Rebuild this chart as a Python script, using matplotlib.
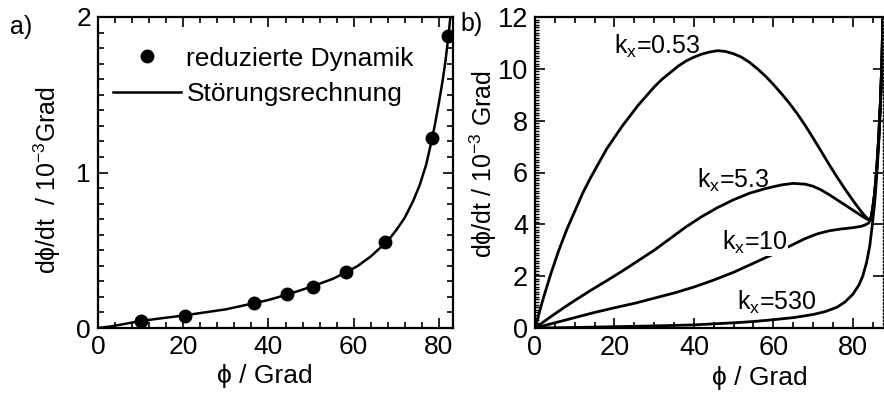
import matplotlib
matplotlib.use("Agg")
import matplotlib.pyplot as plt
from matplotlib.ticker import MultipleLocator

plt.rcParams['font.family'] = ['Liberation Sans', 'DejaVu Sans']
plt.rcParams['mathtext.fontset'] = 'custom'
plt.rcParams['mathtext.rm'] = 'Liberation Sans'
plt.rcParams['mathtext.it'] = 'Liberation Sans:italic'
plt.rcParams['mathtext.bf'] = 'Liberation Sans:bold'

# ---- panel a: reduced dynamics vs. perturbation theory ----
dots_phi = [10, 20.5, 36.7, 44.3, 50.4, 58.3, 67.3, 78.3, 82.1]
dots_rate = [0.045, 0.08, 0.16, 0.22, 0.265, 0.36, 0.55, 1.22, 1.88]

pert_phi = [0, 3, 6, 10, 15, 20, 25, 30, 35, 40, 45, 50, 55, 58, 61, 64,
            66, 68, 70, 72, 74, 75.5, 77, 78, 79, 80, 80.8, 81.5, 82.2,
            82.8, 83.3]
pert_rate = [0, 0.01, 0.025, 0.045, 0.063, 0.08, 0.1, 0.12, 0.15, 0.18,
             0.22, 0.265, 0.315, 0.355, 0.4, 0.46, 0.51, 0.56, 0.63, 0.71,
             0.82, 0.92, 1.05, 1.17, 1.3, 1.45, 1.58, 1.71, 1.87, 2.03,
             2.2]

legend_labels = ["reduzierte Dynamik", "Störungsrechnung"]

# ---- panel b: rate for several k_x ----
k053_phi = [0, 2, 4, 6, 8, 10, 12, 14, 16, 18, 20, 22, 24, 26, 28, 30, 32,
            34, 36, 38, 40, 42, 44, 46, 48, 50, 52, 54, 56, 58, 60, 62, 64,
            66, 68, 70, 72, 74, 76, 78, 80, 81, 82, 83, 84, 84.5, 85, 85.5,
            86, 86.5, 87, 87.3, 87.6]
k053_rate = [0, 1.1, 2.1, 3.0, 3.8, 4.5, 5.2, 5.8, 6.35, 6.9, 7.35, 7.8,
             8.2, 8.6, 8.95, 9.3, 9.6, 9.85, 10.1, 10.3, 10.45, 10.57,
             10.65, 10.7, 10.67, 10.58, 10.45, 10.25, 10.0, 9.72, 9.4, 9.05,
             8.68, 8.27, 7.82, 7.33, 6.83, 6.32, 5.83, 5.37, 4.93, 4.72,
             4.52, 4.33, 4.18, 4.2, 4.6, 5.2, 6.1, 7.3, 8.9, 10.2, 12.2]

k53_phi = [0, 2, 4, 6, 8, 10, 14, 18, 22, 26, 30, 34, 38, 42, 46, 50, 54,
           58, 62, 65, 68, 70, 72, 74, 76, 78, 80, 82, 83, 84, 84.5, 85,
           85.5, 86, 86.5, 87, 87.3, 87.6]
k53_rate = [0, 0.22, 0.44, 0.65, 0.86, 1.06, 1.45, 1.82, 2.2, 2.6, 3.0,
            3.45, 3.9, 4.3, 4.65, 4.95, 5.2, 5.38, 5.52, 5.58, 5.55, 5.47,
            5.33, 5.15, 4.95, 4.75, 4.55, 4.35, 4.25, 4.17, 4.2, 4.6, 5.2,
            6.1, 7.3, 8.9, 10.2, 12.2]

k10_phi = [0, 2, 5, 10, 15, 20, 25, 30, 35, 40, 45, 50, 55, 60, 64, 68,
           71, 74, 77, 80, 82, 83, 84, 84.5, 85, 85.5, 86, 86.5, 87, 87.3,
           87.6]
k10_rate = [0, 0.08, 0.2, 0.4, 0.6, 0.78, 0.95, 1.15, 1.35, 1.58, 1.85,
            2.15, 2.5, 2.85, 3.15, 3.45, 3.63, 3.75, 3.82, 3.87, 3.92, 3.97,
            4.05, 4.2, 4.6, 5.2, 6.1, 7.3, 8.9, 10.2, 12.2]

k530_phi = [0, 10, 20, 30, 40, 50, 55, 60, 65, 70, 73, 76, 78, 80, 81.5,
            82.5, 83.5, 84.3, 85, 85.6, 86.2, 86.7, 87.1, 87.4, 87.7]
k530_rate = [0, 0.02, 0.05, 0.08, 0.12, 0.2, 0.25, 0.32, 0.4, 0.52, 0.63,
             0.8, 1.0, 1.3, 1.65, 2.0, 2.55, 3.2, 4.1, 5.0, 6.3, 7.6, 9.1,
             10.5, 12.3]

curve_labels = [r"k$_\mathrm{x}$=0.53", r"k$_\mathrm{x}$=5.3",
                r"k$_\mathrm{x}$=10", r"k$_\mathrm{x}$=530"]
label_pos = [(30.7, 10.85), (50.0, 5.7), (55.3, 3.3), (60.9, 1.0)]

FS = 18
W, H = 884, 396
fig = plt.figure(figsize=(W / 100, H / 100), dpi=100)
ax1 = fig.add_axes([98 / W, 68 / H, 355 / W, 311 / H])
ax2 = fig.add_axes([535 / W, 68 / H, 348 / W, 311 / H])

for ax, tfs in ((ax1, 19), (ax2, 19.5)):
    for s in ax.spines.values():
        s.set_linewidth(1.6)
    ax.tick_params(which='both', direction='in', top=True, right=True,
                   labelsize=tfs, width=1.2, pad=5)
    ax.tick_params(which='major', length=7)
    ax.tick_params(which='minor', length=4)

# panel a
ax1.plot(pert_phi, pert_rate, color='black', lw=1.8, label=legend_labels[1])
ax1.plot(dots_phi, dots_rate, 'o', color='black', ms=9, ls='none',
         label=legend_labels[0])
ax1.set_xlim(0, 83.3)
ax1.set_ylim(0, 2)
ax1.xaxis.set_major_locator(MultipleLocator(20))
ax1.xaxis.set_minor_locator(MultipleLocator(4))
ax1.yaxis.set_major_locator(MultipleLocator(1))
ax1.yaxis.set_minor_locator(MultipleLocator(0.1))
h, l = ax1.get_legend_handles_labels()
ax1.legend([h[1], h[0]], [l[1], l[0]], loc='upper left',
           bbox_to_anchor=(0.043, 0.905), frameon=False, fontsize=FS + 1,
           handlelength=2.55, handletextpad=0.22, labelspacing=0.45,
           borderpad=0, borderaxespad=0)

# panel b
for xs, ys in ((k053_phi, k053_rate), (k53_phi, k53_rate),
               (k10_phi, k10_rate), (k530_phi, k530_rate)):
    ax2.plot(xs, ys, color='black', lw=2.0, solid_joinstyle='round')
for i, (txt, (x, y)) in enumerate(zip(curve_labels, label_pos)):
    kw = {}
    if i == 2:
        kw['bbox'] = dict(facecolor='white', edgecolor='none', pad=0)
    ax2.text(x, y, txt, fontsize=FS, ha='center', va='center', **kw)
ax2.set_xlim(0, 87.6)
ax2.set_ylim(0, 12)
ax2.xaxis.set_major_locator(MultipleLocator(20))
ax2.xaxis.set_minor_locator(MultipleLocator(5))
ax2.yaxis.set_major_locator(MultipleLocator(2))
ax2.yaxis.set_minor_locator(MultipleLocator(0.1))
ax2.tick_params(which='minor', axis='y', right=False, length=3, width=1.0)
ax2.spines['right'].set_linestyle((0, (1, 1.5)))
ax2.spines['right'].set_linewidth(1.0)

# axis titles
fig.text(265 / W, 1 - 376 / H, "ϕ / Grad", fontsize=FS + 1, ha='center',
         va='center')
fig.text(760 / W, 1 - 378 / H, "ϕ / Grad", fontsize=FS + 1, ha='center',
         va='center')
fig.text(47 / W, 1 - 180 / H, "dϕ/dt  / 10$^{-3}$Grad", fontsize=FS,
         rotation=90, ha='center', va='center')
fig.text(483 / W, 1 - 164 / H, "dϕ/dt / 10$^{-3}$ Grad", fontsize=FS,
         rotation=90, ha='center', va='center')

fig.text(10 / W, 1 - 27 / H, "a)", fontsize=FS, ha='left', va='center')
fig.text(460 / W, 1 - 24 / H, "b)", fontsize=FS, ha='left', va='center')

fig.savefig("out.png", dpi=100)
